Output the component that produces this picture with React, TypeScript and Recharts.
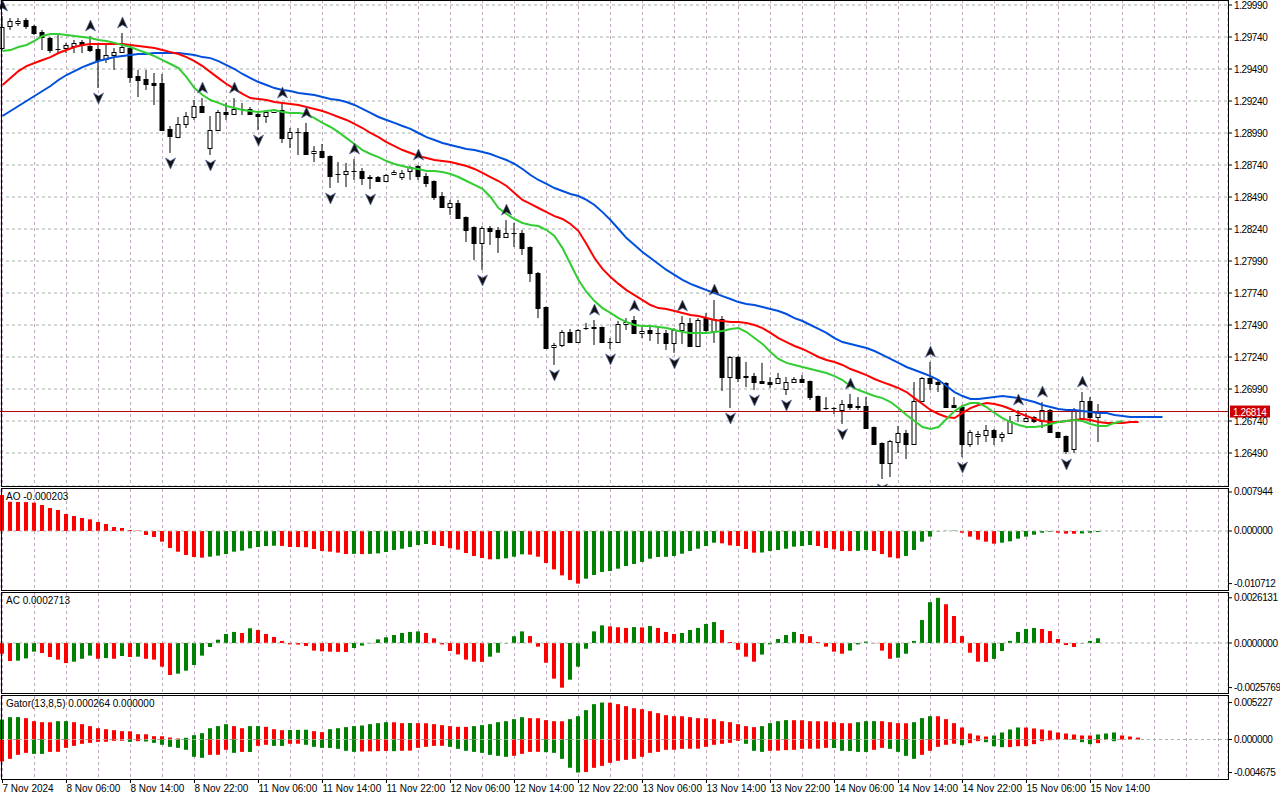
import React from "react";
import {
  ComposedChart,
  Bar,
  Line,
  XAxis,
  YAxis,
  CartesianGrid,
  ReferenceLine,
} from "recharts";

// GBPUSD H1, 7 Nov 22:00 .. 15 Nov
const OPEN = [
  1.29654, 1.29826, 1.2985, 1.29873, 1.29826, 1.29779, 1.29732, 1.29647, 1.29654, 1.2967,
  1.29701, 1.2967, 1.29647, 1.29568, 1.29599, 1.29622, 1.29654, 1.29435, 1.29412, 1.29381,
  1.29381, 1.29022, 1.28958, 1.29061, 1.29115, 1.29201, 1.28872, 1.29013, 1.29154, 1.29139,
  1.29178, 1.29178, 1.29139, 1.29123, 1.29154, 1.2917, 1.2895, 1.28997, 1.28997, 1.28834,
  1.28849, 1.2881, 1.2867, 1.2867, 1.28693, 1.28693, 1.28646, 1.28646, 1.28615, 1.2867,
  1.28646, 1.28693, 1.2873, 1.28654, 1.28615, 1.28498, 1.28412, 1.28444, 1.28333, 1.28255,
  1.28131, 1.28247, 1.28232, 1.28177, 1.28209, 1.28209, 1.28099, 1.27897, 1.2763, 1.27318,
  1.27334, 1.27435, 1.27357, 1.27466, 1.27474, 1.27474, 1.27357, 1.27357, 1.27498, 1.27529,
  1.27428, 1.27451, 1.27428, 1.27428, 1.2735, 1.27451, 1.27506, 1.27326, 1.27544, 1.27443,
  1.27537, 1.27083, 1.2724, 1.27083, 1.27091, 1.27052, 1.27044, 1.27037, 1.2699, 1.27044,
  1.27068, 1.27052, 1.26935, 1.26841, 1.26841, 1.26826, 1.26873, 1.26849, 1.26857, 1.26693,
  1.26569, 1.26412, 1.26576, 1.26647, 1.26561, 1.26896, 1.27075, 1.27044, 1.27037, 1.26865,
  1.26849, 1.26561, 1.26623, 1.26631, 1.2667, 1.26615, 1.26647, 1.26787, 1.2674, 1.26771,
  1.2674, 1.26826, 1.26654, 1.26623, 1.26522, 1.26763, 1.26896, 1.26771,
];
const HIGH = [
  1.29904, 1.29888, 1.29888, 1.29888, 1.29834, 1.29795, 1.2974, 1.29756, 1.29694, 1.29717,
  1.29717, 1.29748, 1.29694, 1.29678, 1.29654, 1.29772, 1.29662, 1.29482, 1.29482, 1.29459,
  1.29451, 1.29045, 1.29115, 1.29154, 1.29248, 1.29263, 1.29123, 1.2917, 1.29225, 1.29263,
  1.29225, 1.29193, 1.29147, 1.29154, 1.29178, 1.29225, 1.29029, 1.29029, 1.29069, 1.28888,
  1.28904, 1.28815, 1.28763, 1.28756, 1.28787, 1.28716, 1.28662, 1.28654, 1.2867, 1.28701,
  1.28701, 1.28732, 1.2874, 1.28678, 1.2862, 1.28529, 1.28467, 1.28467, 1.28338, 1.2826,
  1.28263, 1.28263, 1.28255, 1.2831, 1.28287, 1.28232, 1.28104, 1.27904, 1.27635, 1.2735,
  1.27451, 1.27459, 1.27459, 1.27506, 1.27529, 1.27478, 1.27388, 1.27521, 1.27544, 1.2756,
  1.27474, 1.27474, 1.27474, 1.27451, 1.27466, 1.2756, 1.27544, 1.27544, 1.27584, 1.27685,
  1.2756, 1.27248, 1.27248, 1.27201, 1.27115, 1.27194, 1.27083, 1.27115, 1.27083, 1.27083,
  1.27099, 1.27056, 1.26939, 1.26927, 1.26849, 1.26904, 1.26951, 1.26927, 1.26927, 1.26697,
  1.26573, 1.26592, 1.26701, 1.2667, 1.27044, 1.27083, 1.27201, 1.27068, 1.27044, 1.26927,
  1.26865, 1.2667, 1.26662, 1.26709, 1.26678, 1.26654, 1.26779, 1.26826, 1.26803, 1.26779,
  1.26888, 1.26834, 1.26657, 1.26627, 1.26841, 1.26966, 1.26927, 1.26873,
];
const LOW = [
  1.29638, 1.29795, 1.29826, 1.29803, 1.29756, 1.29638, 1.29615, 1.29615, 1.29615, 1.29615,
  1.29615, 1.29622, 1.29341, 1.29537, 1.29482, 1.29615, 1.29381, 1.29271, 1.29326, 1.29209,
  1.29013, 1.28834, 1.2895, 1.29029, 1.29092, 1.29154, 1.28818, 1.29005, 1.29092, 1.29131,
  1.29131, 1.29131, 1.29013, 1.29069, 1.29147, 1.28912, 1.28872, 1.28818, 1.28818, 1.28763,
  1.28802, 1.2856, 1.286, 1.28568, 1.28623, 1.28584, 1.28552, 1.28607, 1.28607, 1.28662,
  1.28623, 1.28623, 1.28623, 1.28568, 1.28467, 1.28404, 1.28349, 1.28325, 1.28138, 1.27998,
  1.2792, 1.28115, 1.28053, 1.28169, 1.28099, 1.28037, 1.27826, 1.27544, 1.2731, 1.27178,
  1.27318, 1.2735, 1.2735, 1.27451, 1.27334, 1.27357, 1.27303, 1.2735, 1.27451, 1.27428,
  1.27388, 1.27365, 1.27342, 1.27295, 1.27272, 1.27342, 1.27318, 1.27318, 1.27435, 1.2735,
  1.26974, 1.26841, 1.27044, 1.27005, 1.26982, 1.27029, 1.26997, 1.27029, 1.26943, 1.27037,
  1.27037, 1.26904, 1.26818, 1.26826, 1.26795, 1.26717, 1.26826, 1.26826, 1.26678, 1.26553,
  1.26287, 1.26302, 1.2649, 1.26443, 1.26553, 1.26888, 1.26982, 1.26966, 1.26849, 1.26841,
  1.26458, 1.26537, 1.26553, 1.26576, 1.26553, 1.26576, 1.26639, 1.26732, 1.26732, 1.26725,
  1.26685, 1.26654, 1.26615, 1.26482, 1.2649, 1.2676, 1.26732, 1.26576,
];
const CLOSE = [
  1.29818, 1.29865, 1.29865, 1.29826, 1.29772, 1.2974, 1.29638, 1.29645, 1.29678, 1.29694,
  1.29678, 1.29638, 1.2956, 1.29599, 1.29622, 1.29662, 1.29427, 1.29404, 1.29373, 1.29365,
  1.29016, 1.28966, 1.29061, 1.29123, 1.29201, 1.29156, 1.29013, 1.29154, 1.29139, 1.29178,
  1.29175, 1.29139, 1.29123, 1.29154, 1.2917, 1.2895, 1.28997, 1.28994, 1.28826, 1.28849,
  1.28805, 1.28654, 1.28668, 1.28693, 1.28691, 1.28638, 1.28638, 1.28615, 1.28662, 1.28685,
  1.28678, 1.28724, 1.28654, 1.286, 1.2849, 1.28408, 1.28444, 1.28328, 1.28232, 1.28131,
  1.28247, 1.28224, 1.28177, 1.28209, 1.28206, 1.28091, 1.27897, 1.27622, 1.27313, 1.27334,
  1.27435, 1.27357, 1.27451, 1.27463, 1.27466, 1.2736, 1.27355, 1.27498, 1.27513, 1.27431,
  1.27443, 1.27428, 1.27425, 1.2735, 1.27451, 1.27506, 1.27326, 1.27529, 1.27451, 1.27537,
  1.27083, 1.2724, 1.27075, 1.27091, 1.27044, 1.27037, 1.27029, 1.27075, 1.27044, 1.27068,
  1.27044, 1.26927, 1.26826, 1.26838, 1.26838, 1.26873, 1.26849, 1.26857, 1.26685, 1.26561,
  1.26412, 1.26584, 1.26647, 1.26561, 1.26896, 1.27075, 1.27037, 1.27029, 1.26852, 1.26849,
  1.26561, 1.26654, 1.26639, 1.2667, 1.26615, 1.26639, 1.2674, 1.26784, 1.26763, 1.2674,
  1.26826, 1.26657, 1.26618, 1.26505, 1.26826, 1.26896, 1.26771, 1.26814,
];

// Alligator (13,8,5) lines, already shifted forward
const JAW = [
  1.29123, 1.29162, 1.29201, 1.2924, 1.29279, 1.29318, 1.29357, 1.29404, 1.29443, 1.29474,
  1.29505, 1.29529, 1.29552, 1.29568, 1.29583, 1.29591, 1.29599, 1.29607, 1.29607, 1.29615,
  1.29615, 1.29615, 1.29615, 1.29607, 1.29599, 1.29583, 1.29575, 1.29552, 1.29521, 1.2949,
  1.29451, 1.29419, 1.29388, 1.29365, 1.29341, 1.29326, 1.29318, 1.29303, 1.29295, 1.29287,
  1.29271, 1.29256, 1.29248, 1.29232, 1.29209, 1.29178, 1.29147, 1.29115, 1.29092, 1.29069,
  1.29045, 1.29022, 1.2899, 1.28958, 1.28935, 1.28912, 1.28896, 1.2888, 1.28865, 1.28857,
  1.28841, 1.28826, 1.28802, 1.28779, 1.28748, 1.28709, 1.28662, 1.28623, 1.28592, 1.2856,
  1.28537, 1.28514, 1.28498, 1.28467, 1.28428, 1.28372, 1.2831, 1.2824, 1.28169, 1.28115,
  1.2806, 1.28013, 1.27967, 1.2792, 1.27881, 1.27842, 1.27811, 1.27787, 1.27763, 1.2774,
  1.27716, 1.27693, 1.27669, 1.27654, 1.27646, 1.2763, 1.27615, 1.27599, 1.27576, 1.27544,
  1.27521, 1.2749, 1.27459, 1.27428, 1.27388, 1.27357, 1.27342, 1.27326, 1.2731, 1.27287,
  1.27256, 1.27225, 1.27194, 1.27162, 1.27138, 1.27115, 1.27091, 1.2706, 1.27013, 1.26966,
  1.26935, 1.26912, 1.26912, 1.26919, 1.26927, 1.26935, 1.26927, 1.26919, 1.26904, 1.26888,
  1.26865, 1.26849, 1.26834, 1.26826, 1.26826, 1.26818, 1.2681, 1.26803, 1.26803, 1.26787,
  1.26779, 1.26771, 1.26771, 1.26771, 1.26771, 1.26771,
];
const TEETH = [
  1.29365, 1.29419, 1.29474, 1.29513, 1.29537, 1.2956, 1.29583, 1.29615, 1.29638, 1.29662,
  1.29678, 1.29686, 1.29686, 1.29686, 1.29686, 1.29686, 1.29678, 1.2967, 1.29662, 1.29654,
  1.29638, 1.29622, 1.29607, 1.29583, 1.29552, 1.29513, 1.29466, 1.29419, 1.29373, 1.29334,
  1.29295, 1.29263, 1.29256, 1.29248, 1.29232, 1.29225, 1.29217, 1.29209, 1.29193, 1.29178,
  1.29162, 1.29139, 1.29115, 1.29092, 1.29061, 1.29029, 1.2899, 1.28958, 1.28919, 1.28888,
  1.28857, 1.28834, 1.2881, 1.28794, 1.28779, 1.28771, 1.28763, 1.28748, 1.28732, 1.28709,
  1.28678, 1.28646, 1.28615, 1.28576, 1.28522, 1.28467, 1.28436, 1.28404, 1.28372, 1.28341,
  1.28318, 1.28279, 1.28224, 1.28123, 1.28013, 1.27928, 1.27865, 1.27811, 1.27763, 1.27724,
  1.27685, 1.27646, 1.27622, 1.27615, 1.27599, 1.27584, 1.27568, 1.2756, 1.27544, 1.27529,
  1.27521, 1.27513, 1.27513, 1.27506, 1.2749, 1.27466, 1.27428, 1.27388, 1.27357, 1.27326,
  1.27303, 1.27272, 1.2724, 1.27217, 1.27201, 1.27178, 1.27146, 1.27123, 1.27099, 1.27068,
  1.27044, 1.27021, 1.26997, 1.26966, 1.26919, 1.26873, 1.26826, 1.26795, 1.26771, 1.26763,
  1.26803, 1.26841, 1.26865, 1.2688, 1.26873, 1.26857, 1.26834, 1.26803, 1.26779, 1.26756,
  1.2674, 1.26732, 1.26732, 1.2674, 1.26748, 1.26756, 1.26748, 1.26732, 1.26725, 1.26725,
  1.26725, 1.26732, 1.26732,
];
const LIPS = [
  1.2963, 1.29638, 1.29662, 1.29678, 1.29709, 1.29748, 1.29764, 1.29764, 1.29756, 1.29748,
  1.2974, 1.29732, 1.29717, 1.29709, 1.29694, 1.29678, 1.29662, 1.29638, 1.29615, 1.29591,
  1.2956, 1.29529, 1.29497, 1.29427, 1.29341, 1.29287, 1.29248, 1.29225, 1.29201, 1.29185,
  1.2917, 1.29162, 1.29154, 1.29162, 1.2917, 1.29154, 1.29147, 1.29147, 1.29139, 1.29107,
  1.29069, 1.29037, 1.28997, 1.2895, 1.28904, 1.28857, 1.28826, 1.28802, 1.28771, 1.28748,
  1.28732, 1.28716, 1.28709, 1.28693, 1.28693, 1.28685, 1.2867, 1.28646, 1.28615, 1.28584,
  1.28553, 1.2849, 1.28404, 1.28357, 1.28318, 1.28287, 1.28271, 1.28263, 1.28232, 1.28185,
  1.28091, 1.27967, 1.27842, 1.27748, 1.27677, 1.27622, 1.27584, 1.27544, 1.27513, 1.2749,
  1.27482, 1.27482, 1.27474, 1.27466, 1.27451, 1.27435, 1.27428, 1.27428, 1.27428, 1.27435,
  1.27443, 1.27459, 1.27466, 1.27435, 1.27388, 1.27342, 1.27279, 1.27225, 1.27194, 1.27178,
  1.27162, 1.27146, 1.27131, 1.27115, 1.27091, 1.2706, 1.27013, 1.26982, 1.26959, 1.26935,
  1.26919, 1.26888, 1.26841, 1.26787, 1.2674, 1.26693, 1.26678, 1.26693, 1.26756, 1.26818,
  1.26857, 1.2688, 1.2688, 1.26849, 1.26803, 1.26763, 1.26732, 1.26709, 1.26693, 1.26693,
  1.26701, 1.26717, 1.26732, 1.2674, 1.26748, 1.2674, 1.26717, 1.26701, 1.26701, 1.26725,
  1.2674,
];

// bar indexes carrying a fractal
const UP_FRACTALS = [0, 11, 15, 25, 29, 35, 38, 44, 52, 63, 74, 79, 85, 89, 106, 116, 127, 130, 135];
const DOWN_FRACTALS = [12, 21, 26, 32, 41, 46, 60, 69, 76, 84, 91, 94, 98, 105, 110, 120, 133];

const AO = [
  0.00733, 0.00595, 0.00592, 0.00588, 0.00577, 0.0053, 0.00469, 0.00428, 0.00346, 0.00306,
  0.00265, 0.00238, 0.00183, 0.00143, 0.00081, 0.00061, 0.0002, 0.00007, -0.00081, -0.00122,
  -0.00217, -0.00346, -0.00421, -0.00489, -0.0053, -0.00543, -0.00523, -0.00502, -0.00469, -0.00421,
  -0.00401, -0.00353, -0.00326, -0.00306, -0.003, -0.00304, -0.00326, -0.00328, -0.00331, -0.00367,
  -0.00407, -0.00421, -0.00441, -0.00469, -0.00465, -0.0047, -0.00466, -0.00455, -0.00428, -0.00387,
  -0.0036, -0.00326, -0.00285, -0.00265, -0.00285, -0.00306, -0.00353, -0.0038, -0.00448, -0.00509,
  -0.0055, -0.00577, -0.00574, -0.00557, -0.00523, -0.00475, -0.00482, -0.00523, -0.00652, -0.00781,
  -0.00903, -0.00998, -0.010712, -0.00971, -0.00896, -0.00835, -0.00815, -0.00767, -0.00713, -0.00672,
  -0.00631, -0.00564, -0.0053, -0.00526, -0.00509, -0.00462, -0.00407, -0.0036, -0.00306, -0.00238,
  -0.00251, -0.00292, -0.00306, -0.00367, -0.00441, -0.00438, -0.00407, -0.00387, -0.0036, -0.00319,
  -0.00306, -0.00285, -0.00306, -0.00346, -0.00373, -0.00407, -0.0041, -0.00405, -0.00387, -0.00407,
  -0.00469, -0.00536, -0.00557, -0.00509, -0.00387, -0.00217, -0.00115, -0.00007, 0.00005, 0.00008,
  -0.00034, -0.00115, -0.00177, -0.00217, -0.00258, -0.00238, -0.0021, -0.00156, -0.00115, -0.00075,
  -0.00034, -0.00014, -0.00034, -0.00054, -0.00056, -0.0005, -0.00034, -0.000203,
];
const AC = [
  -0.00062, -0.00104, -0.00102, -0.00089, -0.0005, -0.00058, -0.00081, -0.00096, -0.00116, -0.00108,
  -0.00091, -0.00073, -0.00091, -0.00087, -0.00091, -0.00075, -0.00081, -0.00079, -0.00091, -0.00096,
  -0.00137, -0.00185, -0.00177, -0.0016, -0.00127, -0.00073, -0.00023, 0.00019, 0.00052, 0.00064,
  0.00058, 0.00085, 0.00075, 0.00052, 0.00035, 0.00012, -0.00008, -0.00009, -0.00017, -0.00044,
  -0.00048, -0.0005, -0.00051, -0.00052, -0.00029, -0.00015, -0.00002, 0.00021, 0.00033, 0.00046,
  0.00058, 0.00064, 0.00067, 0.00058, 0.00027, -0.00008, -0.00046, -0.00066, -0.00096, -0.00108,
  -0.00109, -0.00079, -0.00056, -0.00002, 0.00039, 0.00067, 0.0004, -0.00021, -0.00114, -0.00206,
  -0.00258, -0.00212, -0.00137, -0.00033, 0.00067, 0.00102, 0.00096, 0.00091, 0.00087, 0.00092,
  0.0009, 0.00098, 0.00087, 0.00064, 0.00052, 0.00058, 0.00075, 0.00087, 0.0011, 0.00121,
  0.00075, 0.00006, -0.00039, -0.00079, -0.00108, -0.00067, -0.00008, 0.00023, 0.00046, 0.00064,
  0.00052, 0.00039, 0.00006, -0.00021, -0.0005, -0.00062, -0.00044, -0.00008, 0.00008, -0.00002,
  -0.00044, -0.00091, -0.00085, -0.00062, 0.00012, 0.00133, 0.00236, 0.00261, 0.00224, 0.00156,
  0.0004, -0.00056, -0.00108, -0.00109, -0.00092, -0.00046, 0.00012, 0.00064, 0.00081, 0.00087,
  0.00081, 0.00069, 0.00023, -0.00012, -0.00023, -0.00002, 0.00012, 0.0002713,
];
// Gator: |jaw - teeth| above zero, -|teeth - lips| below
const GATOR_UP = [
  0.00283, 0.00316, 0.00317, 0.00302, 0.00259, 0.00245, 0.00244, 0.00259, 0.0026, 0.00245,
  0.00217, 0.00189, 0.0016, 0.00146, 0.00132, 0.00118, 0.00116, 0.00075, 0.00074, 0.00047,
  0.00046, 0.00028, 0.00014, 0.00024, 0.00061, 0.0009, 0.0016, 0.00189, 0.00217, 0.00189,
  0.0016, 0.00189, 0.0019, 0.00179, 0.00146, 0.00132, 0.00134, 0.00136, 0.00138, 0.00118,
  0.00104, 0.00146, 0.0016, 0.00175, 0.00189, 0.00198, 0.00217, 0.00231, 0.00245, 0.00244,
  0.00231, 0.00233, 0.00231, 0.0023, 0.00217, 0.00203, 0.00189, 0.00179, 0.00178, 0.00189,
  0.00203, 0.00217, 0.00245, 0.00259, 0.00288, 0.00316, 0.00302, 0.00301, 0.00274, 0.00259,
  0.00258, 0.00288, 0.0033, 0.00415, 0.005, 0.005227, 0.0052, 0.005, 0.00472, 0.00443,
  0.00429, 0.00401, 0.00373, 0.00344, 0.0033, 0.00329, 0.00316, 0.00302, 0.00301, 0.00288,
  0.00259, 0.00245, 0.00217, 0.00189, 0.00175, 0.00189, 0.00231, 0.00259, 0.00274, 0.00273,
  0.00272, 0.00259, 0.00258, 0.00257, 0.00245, 0.00231, 0.0023, 0.00245, 0.00259, 0.0026,
  0.00259, 0.00245, 0.00231, 0.0023, 0.00245, 0.00302, 0.0033, 0.00329, 0.00288, 0.00231,
  0.0017, 0.00085, 0.00057, 0.00042, 0.00057, 0.00099, 0.00142, 0.0017, 0.00169, 0.00156,
  0.00142, 0.00127, 0.00099, 0.00085, 0.00071, 0.00057, 0.00056, 0.00071, 0.00085, 0.00099,
  0.00057, 0.00042, 0.000264,
];
const GATOR_DN = [
  -0.00311, -0.00274, -0.00217, -0.00189, -0.00203, -0.00204, -0.00175, -0.00174, -0.00118, -0.0009,
  -0.00061, -0.00047, -0.00033, -0.00032, -0.00019, -0.00018, -0.00033, -0.00024, -0.00028, -0.00047,
  -0.00075, -0.00104, -0.00118, -0.00146, -0.00245, -0.00259, -0.00217, -0.00216, -0.00146, -0.00189,
  -0.00175, -0.00176, -0.0009, -0.00075, -0.0009, -0.00091, -0.00061, -0.0006, -0.00075, -0.00104,
  -0.00118, -0.00119, -0.00132, -0.0016, -0.00175, -0.0017, -0.00168, -0.00165, -0.00162, -0.00165,
  -0.0016, -0.00158, -0.00118, -0.00104, -0.0009, -0.00089, -0.00104, -0.00132, -0.0016, -0.00175,
  -0.00189, -0.00217, -0.00231, -0.00245, -0.00231, -0.00203, -0.00175, -0.00174, -0.00179, -0.00189,
  -0.00274, -0.004, -0.004675, -0.0046, -0.00401, -0.00373, -0.0033, -0.00302, -0.00288, -0.00274,
  -0.00245, -0.00189, -0.00175, -0.00146, -0.00145, -0.00132, -0.00131, -0.0013, -0.00104, -0.00075,
  -0.00061, -0.00047, -0.00019, -0.00061, -0.0016, -0.00175, -0.0016, -0.00158, -0.0015, -0.00146,
  -0.00132, -0.00131, -0.0013, -0.00118, -0.0012, -0.0016, -0.00162, -0.00175, -0.00176, -0.00146,
  -0.00118, -0.00132, -0.00175, -0.00231, -0.00274, -0.00217, -0.0016, -0.00104, -0.00075, -0.0006,
  -0.00081, -0.00052, -0.00024, -0.00038, -0.00095, -0.00109, -0.00108, -0.00095, -0.00093, -0.00066,
  -0.00024, -0.0001, -0.00003, -0.00005, -0.00006, -0.00038, -0.00066, -0.00052, -0.00007, -0.00024,
  0,
];

const PRICE_TICKS = [
  1.2999, 1.2974, 1.2949, 1.2924, 1.2899, 1.2874, 1.2849, 1.2824, 1.2799, 1.2774,
  1.2749, 1.2724, 1.2699, 1.2674, 1.2649,
];
const AO_TICKS = [0.007944, 0, -0.010712];
const AC_TICKS = [0.0026131, 0, -0.0025769];
const GATOR_TICKS = [0.005227, 0, -0.004675];

const DATE_TICKS = [0, 8, 16, 24, 32, 40, 48, 56, 64, 72, 80, 88, 96, 104, 112, 120, 128, 136];
const DATE_LABELS = [
  "7 Nov 2024", "8 Nov 06:00", "8 Nov 14:00", "8 Nov 22:00", "11 Nov 06:00", "11 Nov 14:00",
  "11 Nov 22:00", "12 Nov 06:00", "12 Nov 14:00", "12 Nov 22:00", "13 Nov 06:00", "13 Nov 14:00",
  "13 Nov 22:00", "14 Nov 06:00", "14 Nov 14:00", "14 Nov 22:00", "15 Nov 06:00", "15 Nov 14:00",
];

const FONT = "'Liberation Sans', Arial, Helvetica, sans-serif";
const RED = "#ff0000";
const GREEN = "#008000";
const GRID_H = "#a8b0a8";
const GRID_V = "#c0a8c0";
const X_DOMAIN: [number, number] = [-0.3125, 153.1875];
const GRID_X = Array.from({ length: 39 }, (_, k) => k * 4);
const LAST = CLOSE[CLOSE.length - 1];

// colour rule used by the terminal: rising bar green, falling bar red
const trend = (arr: number[], first: string, useAbs = false) =>
  arr.map((v, i) => {
    if (i === 0) return first;
    const a = useAbs ? Math.abs(v) : v;
    const b = useAbs ? Math.abs(arr[i - 1]) : arr[i - 1];
    return a > b ? GREEN : RED;
  });

const aoColors = trend(AO, RED);
const acColors = trend(AC, RED);
const guColors = trend(GATOR_UP, GREEN);
const gdColors = trend(GATOR_DN, RED, true);

const mainRows = JAW.map((jaw, i) => ({
  i,
  range: i < OPEN.length ? [LOW[i], HIGH[i]] : null,
  o: OPEN[i] ?? null,
  h: HIGH[i] ?? null,
  l: LOW[i] ?? null,
  c: CLOSE[i] ?? null,
  jaw,
  teeth: TEETH[i] ?? null,
  lips: LIPS[i] ?? null,
  fUp: UP_FRACTALS.includes(i) ? HIGH[i] : null,
  fDn: DOWN_FRACTALS.includes(i) ? LOW[i] : null,
}));
const aoRows = AO.map((v, i) => ({ i, v, color: aoColors[i] }));
const acRows = AC.map((v, i) => ({ i, v, color: acColors[i] }));
const gatorRows = GATOR_UP.map((u, i) => ({
  i,
  u,
  d: GATOR_DN[i] ?? 0,
  range: [GATOR_DN[i] ?? 0, u],
  uc: guColors[i],
  dc: gdColors[i] ?? RED,
}));

const Candle = (props: any) => {
  const { x, y, width, height, payload } = props;
  if (!payload || payload.o == null || y == null || isNaN(y)) return <g />;
  const top = Math.min(y, y + height);
  const span = Math.abs(height);
  const { o, h, l, c } = payload;
  const k = h - l > 0 ? span / (h - l) : 0;
  const cx = x + width / 2;
  const yo = top + (h - o) * k;
  const yc = top + (h - c) * k;
  const bTop = Math.round(Math.min(yo, yc)) + 0.5;
  const bBot = Math.round(Math.max(yo, yc)) + 0.5;
  const bull = c >= o;
  return (
    <g>
      <line x1={cx} x2={cx} y1={top} y2={top + span} stroke="#000" strokeWidth={1} />
      {bBot - bTop < 1 ? (
        <line x1={cx - 2.5} x2={cx + 2.5} y1={bTop} y2={bTop} stroke="#000" strokeWidth={1} />
      ) : (
        <rect
          x={cx - 2}
          y={bTop}
          width={4}
          height={bBot - bTop}
          fill={bull ? "#fff" : "#000"}
          stroke="#000"
          strokeWidth={1}
        />
      )}
    </g>
  );
};

const fractalDot = (up: boolean) => (props: any) => {
  const { cx, cy, value, index } = props;
  if (value == null || cy == null || isNaN(cy)) return <g key={`f${up}${index}`} />;
  const s = up ? 1 : -1;
  const ay = up ? cy - 10 : cy + 10;
  const d = `M${cx},${ay - 6 * s} L${cx + 5},${ay + 5 * s} L${cx},${ay + 2 * s} L${cx - 5},${ay + 5 * s} Z`;
  return <path key={`f${up}${index}`} d={d} fill="#111" stroke="#5a6aa0" strokeWidth={0.7} />;
};

const HistBar = (props: any) => {
  const { x, y, width, height, payload } = props;
  if (!payload || y == null || isNaN(y)) return <g />;
  const top = Math.min(y, y + height);
  return <rect x={Math.floor(x)} y={top} width={width} height={Math.abs(height)} fill={payload.color} />;
};

const GatorBar = (props: any) => {
  const { x, y, width, height, payload } = props;
  if (!payload || y == null || isNaN(y)) return <g />;
  const top = Math.min(y, y + height);
  const span = Math.abs(height);
  const total = payload.u - payload.d;
  if (total <= 0) return <g />;
  const zeroY = top + (payload.u / total) * span;
  const rx = Math.floor(x);
  return (
    <g>
      <rect x={rx} y={top} width={width} height={zeroY - top} fill={payload.uc} />
      <rect x={rx} y={zeroY} width={width} height={top + span - zeroY} fill={payload.dc} />
    </g>
  );
};

const axisTick = (digits: number) => (props: any) => {
  const { x, y, payload } = props;
  return (
    <text x={x} y={y} dy={3.5} fontSize={10} fill="#000" letterSpacing={-0.4} fontFamily={FONT}>
      {payload.value.toFixed(digits)}
    </text>
  );
};

const DateTick = (props: any) => {
  const { x, y, payload } = props;
  const k = DATE_TICKS.indexOf(payload.value);
  if (k < 0) return <g />;
  return (
    <g>
      <line x1={x} x2={x} y1={y + 1} y2={y + 5} stroke="#000" />
      <text x={x} y={y + 14} fontSize={10} fill="#000" fontFamily={FONT}>
        {DATE_LABELS[k]}
      </text>
    </g>
  );
};

const PriceTag = (props: any) => {
  const vb = props.viewBox || {};
  const x = (vb.x || 0) + (vb.width || 0) + 2;
  const y = vb.y || 0;
  return (
    <g>
      <rect x={x} y={y - 6} width={40} height={12} fill="#cc0000" />
      <text x={x + 3} y={y + 4} fontSize={10} fill="#fff" letterSpacing={-0.4} fontFamily={FONT}>
        {LAST.toFixed(5)}
      </text>
    </g>
  );
};

const frame = (top: number, height: number): React.CSSProperties => ({
  position: "absolute",
  left: 1,
  top,
  width: 1228,
  height,
  border: "1px solid #000",
  boxSizing: "border-box",
  pointerEvents: "none",
});

const title: React.CSSProperties = {
  position: "absolute",
  left: 6,
  fontSize: 10,
  lineHeight: "12px",
  color: "#000",
  whiteSpace: "nowrap",
};

const margin = { top: 0, right: 0, bottom: 0, left: 0 };
// sub panels get 5px of head room so the top tick label is not clipped
const subMargin = { top: 5, right: 0, bottom: 0, left: 0 };

function SubGrid() {
  return <CartesianGrid horizontal={false} stroke={GRID_V} strokeDasharray="3 3" />;
}

export default function App() {
  const lastGU = GATOR_UP[GATOR_UP.length - 1];
  const lastGD = Math.abs(GATOR_DN[GATOR_DN.length - 1]);
  return (
    <div
      style={{
        position: "absolute",
        left: 0,
        top: 0,
        width: 1280,
        height: 800,
        background: "#fff",
        overflow: "hidden",
        fontFamily: FONT,
      }}
    >
      {/* price panel */}
      <div style={{ position: "absolute", left: 0, top: 0 }}>
        <ComposedChart width={1280} height={486} data={mainRows} margin={margin}>
          <CartesianGrid vertical={false} stroke={GRID_H} strokeDasharray="3 3" />
          <CartesianGrid horizontal={false} stroke={GRID_V} strokeDasharray="3 3" />
          <XAxis type="number" dataKey="i" domain={X_DOMAIN} ticks={GRID_X} interval={0} allowDataOverflow hide />
          <YAxis
            orientation="right"
            width={52}
            domain={[1.262322, 1.300291]}
            ticks={PRICE_TICKS}
            interval={0}
            allowDataOverflow
            axisLine={false}
            tickLine={{ stroke: "#000" }}
            tickSize={4}
            tick={axisTick(5)}
          />
          <ReferenceLine y={LAST} stroke="#b00000" strokeWidth={1} label={PriceTag} />
          <Bar dataKey="range" shape={Candle} barSize={5} isAnimationActive={false} />
          <Line dataKey="jaw" stroke="#0050dc" strokeWidth={2} dot={false} activeDot={false} isAnimationActive={false} />
          <Line dataKey="teeth" stroke={RED} strokeWidth={2} dot={false} activeDot={false} isAnimationActive={false} />
          <Line dataKey="lips" stroke="#32cd32" strokeWidth={2} dot={false} activeDot={false} isAnimationActive={false} />
          <Line dataKey="fUp" stroke="none" dot={fractalDot(true)} activeDot={false} isAnimationActive={false} />
          <Line dataKey="fDn" stroke="none" dot={fractalDot(false)} activeDot={false} isAnimationActive={false} />
        </ComposedChart>
      </div>

      {/* AO */}
      <div style={{ position: "absolute", left: 0, top: 484 }}>
        <ComposedChart width={1280} height={105} data={aoRows} margin={subMargin}>
          <SubGrid />
          <XAxis type="number" dataKey="i" domain={X_DOMAIN} ticks={GRID_X} interval={0} allowDataOverflow hide />
          <YAxis
            orientation="right"
            width={52}
            domain={[-0.011815, 0.008555]}
            ticks={AO_TICKS}
            interval={0}
            allowDataOverflow
            axisLine={false}
            tickLine={{ stroke: "#000" }}
            tickSize={4}
            tick={axisTick(6)}
          />
          <ReferenceLine y={0} stroke={GRID_H} strokeDasharray="3 3" />
          <Bar dataKey="v" shape={HistBar} barSize={4} isAnimationActive={false} />
        </ComposedChart>
      </div>

      {/* AC */}
      <div style={{ position: "absolute", left: 0, top: 588 }}>
        <ComposedChart width={1280} height={104} data={acRows} margin={subMargin}>
          <SubGrid />
          <XAxis type="number" dataKey="i" domain={X_DOMAIN} ticks={GRID_X} interval={0} allowDataOverflow hide />
          <YAxis
            orientation="right"
            width={52}
            domain={[-0.002832, 0.00289]}
            ticks={AC_TICKS}
            interval={0}
            allowDataOverflow
            axisLine={false}
            tickLine={{ stroke: "#000" }}
            tickSize={4}
            tick={axisTick(7)}
          />
          <ReferenceLine y={0} stroke={GRID_H} strokeDasharray="3 3" />
          <Bar dataKey="v" shape={HistBar} barSize={4} isAnimationActive={false} />
        </ComposedChart>
      </div>

      {/* Gator */}
      <div style={{ position: "absolute", left: 0, top: 691 }}>
        <ComposedChart width={1280} height={109} data={gatorRows} margin={subMargin}>
          <SubGrid />
          <XAxis
            type="number"
            dataKey="i"
            domain={X_DOMAIN}
            ticks={GRID_X}
            interval={0}
            allowDataOverflow
            height={22}
            axisLine={false}
            tickLine={false}
            tickSize={0}
            tickMargin={0}
            tick={DateTick}
          />
          <YAxis
            orientation="right"
            width={52}
            domain={[-0.005448, 0.006155]}
            ticks={GATOR_TICKS}
            interval={0}
            allowDataOverflow
            axisLine={false}
            tickLine={{ stroke: "#000" }}
            tickSize={4}
            tick={axisTick(6)}
          />
          <ReferenceLine y={0} stroke={GRID_H} strokeDasharray="3 3" />
          <Bar dataKey="range" shape={GatorBar} barSize={4} isAnimationActive={false} />
        </ComposedChart>
      </div>

      <div style={frame(0, 487)} />
      <div style={frame(488, 103)} />
      <div style={frame(592, 102)} />
      <div style={frame(695, 85)} />

      <div style={{ ...title, top: 491 }}>AO {AO[AO.length - 1].toFixed(6)}</div>
      <div style={{ ...title, top: 595 }}>AC {AC[AC.length - 1].toFixed(7)}</div>
      <div style={{ ...title, top: 698 }}>
        Gator(13,8,5) {lastGU.toFixed(6)} {lastGD.toFixed(6)}
      </div>
    </div>
  );
}
